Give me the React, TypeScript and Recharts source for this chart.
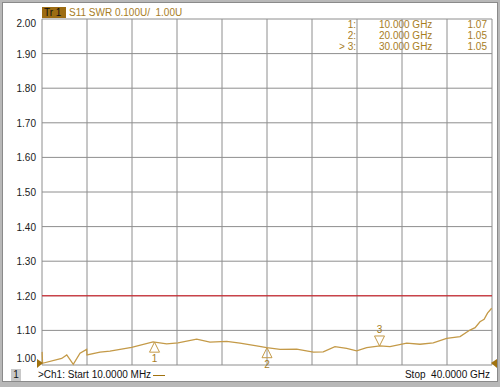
import React from 'react';
import { LineChart, Line, XAxis, YAxis, CartesianGrid, ReferenceLine, ReferenceDot } from 'recharts';

// trace (GHz, SWR)
const freqs = [
  0.01, 0.05, 1.75, 2.2, 2.78, 3.38, 3.97, 4.0, 5.16, 6.04, 7.97, 9.87, 11.08, 12.09, 13.75,
  14.93, 16.42, 17.6, 19.08, 19.97, 21.16, 22.64, 24.12, 25.0, 26.04, 27.08, 27.97, 28.86,
  30.04, 30.93, 32.42, 33.6, 34.78, 35.97, 37.16, 38.04, 38.5, 38.93, 39.3, 39.6, 39.97,
];
const swr = [
  1.038, 1.005, 1.019, 1.029, 1.002, 1.034, 1.045, 1.029, 1.037, 1.04, 1.051, 1.067, 1.061, 1.064, 1.075,
  1.066, 1.068, 1.063, 1.055, 1.05, 1.045, 1.046, 1.037, 1.038, 1.053, 1.048, 1.041, 1.05,
  1.055, 1.053, 1.063, 1.06, 1.064, 1.077, 1.082, 1.101, 1.108, 1.125, 1.132, 1.15, 1.164,
];

const xTicks = [0, 4, 8, 12, 16, 20, 24, 28, 32, 36, 40];
const yTicks = [1.0, 1.1, 1.2, 1.3, 1.4, 1.5, 1.6, 1.7, 1.8, 1.9, 2.0];
const limit = 1.2;

const markerIds = ['1', '2', '3'];
const markerFreqs = [10, 20, 30];
const markerVals = [1.066, 1.05, 1.055];
const markerFreqText = ['10.000 GHz', '20.000 GHz', '30.000 GHz'];
const markerValText = ['1.07', '1.05', '1.05'];

const data = freqs.map((f, i) => ({ f, v: swr[i] }));

const GOLD = '#c49a48';
const TXT_GOLD = '#a77d1e';
const FONT = '"Liberation Sans", Arial, sans-serif';

const YTick = (props: any) => {
  const { x, y, payload } = props;
  let dy = 4;
  if (payload.value >= 2) dy = 8;
  if (payload.value <= 1) dy = -3;
  return (
    <text x={x} y={y + dy} textAnchor="end" fontSize={10} fill="#1a1a1a" fontFamily={FONT}>
      {Number(payload.value).toFixed(2)}
    </text>
  );
};

const markerShape = (id: string, up: boolean) => (p: any) => {
  const { cx, cy } = p;
  if (up) {
    return (
      <g>
        <polygon points={`${cx},${cy} ${cx - 5},${cy + 10} ${cx + 5},${cy + 10}`} fill="none" stroke={GOLD} strokeWidth={1} />
        <text x={cx} y={cy + 20} textAnchor="middle" fontSize={10} fill={TXT_GOLD} fontFamily={FONT}>{id}</text>
      </g>
    );
  }
  return (
    <g>
      <polygon points={`${cx},${cy} ${cx - 5},${cy - 10} ${cx + 5},${cy - 10}`} fill="none" stroke={GOLD} strokeWidth={1} />
      <text x={cx} y={cy - 13} textAnchor="middle" fontSize={10} fill={TXT_GOLD} fontFamily={FONT}>{id}</text>
    </g>
  );
};

const startArrow = (p: any) => {
  const { cx, cy } = p;
  return <polygon points={`${cx - 5},${cy - 6} ${cx + 1},${cy - 2} ${cx - 5},${cy + 3}`} fill="#a0720f" />;
};
const stopArrow = (p: any) => {
  const { cx, cy } = p;
  return <polygon points={`${cx + 5},${cy - 6} ${cx - 1},${cy - 2} ${cx + 5},${cy + 3}`} fill="#a0720f" />;
};

export default function App() {
  return (
    <div style={{ position: 'absolute', left: 0, top: 0, width: 500, height: 387, background: '#b8b8b8', fontFamily: FONT }}>
      <div style={{ position: 'absolute', left: 2, top: 2, width: 494, height: 378, background: '#fff', border: '1px solid #8a8a8a' }} />

      {/* trace header */}
      <div style={{ position: 'absolute', left: 42, top: 7, width: 22, height: 11, background: '#9c6c12', color: '#111', fontSize: 10, lineHeight: '11px', paddingLeft: 2 }}>Tr 1</div>
      <div style={{ position: 'absolute', left: 69, top: 7, fontSize: 10, lineHeight: '11px', color: TXT_GOLD, whiteSpace: 'pre' }}>S11 SWR 0.100U/  1.00U</div>

      {/* marker readout */}
      {markerIds.map((id, i) => (
        <div key={id} style={{ position: 'absolute', top: 19 + i * 11, left: 0, width: 500, fontSize: 10, lineHeight: '11px', color: TXT_GOLD }}>
          <span style={{ position: 'absolute', right: 144, whiteSpace: 'pre' }}>{(i === 2 ? '> ' : '') + id + ':'}</span>
          <span style={{ position: 'absolute', left: 379 }}>{markerFreqText[i]}</span>
          <span style={{ position: 'absolute', right: 13 }}>{markerValText[i]}</span>
        </div>
      ))}

      <div style={{ position: 'absolute', left: 0, top: 0 }}>
        <LineChart width={500} height={387} data={data} margin={{ top: 19, right: 8, bottom: 22, left: 0 }}>
          <CartesianGrid stroke="#8e8e8e" strokeWidth={1} horizontalValues={yTicks} verticalValues={xTicks} />
          <XAxis dataKey="f" type="number" domain={[0, 40]} ticks={xTicks} hide />
          <YAxis
            type="number"
            domain={[1, 2]}
            ticks={yTicks}
            width={42}
            axisLine={false}
            tickLine={false}
            tickSize={0}
            tickMargin={6}
            tick={<YTick />}
            interval={0}
          />
          <ReferenceLine y={limit} stroke="#d8141e" strokeWidth={1} />
          <Line
            dataKey="v"
            type="linear"
            stroke={GOLD}
            strokeWidth={1.3}
            dot={false}
            isAnimationActive={false}
          />
          {markerIds.map((id, i) => (
            <ReferenceDot
              key={id}
              x={markerFreqs[i]}
              y={markerVals[i]}
              ifOverflow="visible"
              shape={markerShape(id, i < 2)}
            />
          ))}
          <ReferenceDot x={0} y={1} ifOverflow="visible" shape={startArrow} />
          <ReferenceDot x={40} y={1} ifOverflow="visible" shape={stopArrow} />
        </LineChart>
      </div>

      {/* stimulus footer */}
      <div style={{ position: 'absolute', left: 11, top: 369, width: 10, height: 12, background: '#c8c8c8', fontSize: 10, lineHeight: '12px', textAlign: 'center', color: '#111' }}>1</div>
      <div style={{ position: 'absolute', left: 38, top: 369, fontSize: 10, lineHeight: '12px', color: '#111' }}>&gt;Ch1: Start  10.0000 MHz</div>
      <div style={{ position: 'absolute', left: 153, top: 375, width: 12, height: 1, background: '#a0720f' }} />
      <div style={{ position: 'absolute', right: 10, top: 369, fontSize: 10, lineHeight: '12px', color: '#111', whiteSpace: 'pre' }}>Stop  40.0000 GHz</div>
    </div>
  );
}
